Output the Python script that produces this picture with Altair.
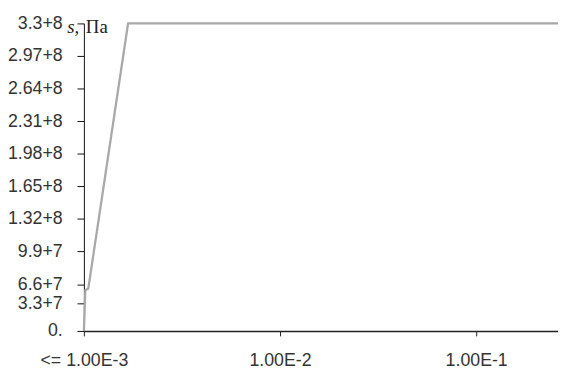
import altair as alt
import pandas as pd

# Curve (strain vs stress)
strain = [0.001, 0.001017, 0.001053, 0.00168, 0.2613]
stress = [0.0, 5.55e7, 5.84e7, 3.3e8, 3.3e8]

# Axis ticks and their labels
x_ticks = [0.001, 0.01, 0.1]
x_labels = ["<= 1.00E-3", "1.00E-2", "1.00E-1"]
y_ticks = [0.0, 3.3e7, 6.6e7, 9.9e7, 1.32e8, 1.65e8, 1.98e8, 2.31e8, 2.64e8, 2.97e8, 3.3e8]
y_labels = ["0.", "3.3+7", "6.6+7", "9.9+7", "1.32+8", "1.65+8", "1.98+8",
            "2.31+8", "2.64+8", "2.97+8", "3.3+8"]
y_unit_symbol = "s,"
y_unit = "Па"


def label_expr(vals, labs, rel):
    s = "''"
    for v, l in reversed(list(zip(vals, labs))):
        tol = max(abs(v) * rel, 1e-9) if rel else 1
        s = f"abs(datum.value - {v}) < {tol} ? '{l}' : {s}"
    return s


df = pd.DataFrame({"strain": strain, "stress": stress})

W, H = 481, 312

base = alt.Chart(df).mark_line(color="#a8a8a8", strokeWidth=2.3, clip=False).encode(
    x=alt.X(
        "strain:Q",
        scale=alt.Scale(type="log", domain=[0.001, 0.2613], nice=False),
        axis=alt.Axis(
            values=x_ticks,
            labelExpr=label_expr(x_ticks, x_labels, 1e-6),
            title=None,
            grid=False,
            domainColor="#222222",
            domainWidth=1.5,
            tickColor="#222222",
            tickSize=5,
            labelPadding=16,
            labelFont="Liberation Sans",
            labelFontSize=18,
            labelColor="#333333",
            labelFlush=False,
            labelOverlap=False,
        ),
    ),
    y=alt.Y(
        "stress:Q",
        scale=alt.Scale(domain=[0, 3.3e7, 6.6e7, 3.3e8], range=[312, 284, 264.5, 0], nice=False, zero=False),
        axis=alt.Axis(
            values=y_ticks,
            labelExpr=label_expr(y_ticks, y_labels, 0),
            title=None,
            grid=False,
            domainColor="#111111",
            tickColor="#111111",
            tickSize=7,
            labelPadding=15,
            labelFont="Liberation Sans",
            labelFontSize=18,
            labelColor="#333333",
            labelOverlap=False,
            labelFlush=False,
        ),
    ),
)

sym = alt.Chart(pd.DataFrame({"t": [y_unit_symbol]})).mark_text(
    font="Liberation Serif", fontSize=19, fontStyle="italic", align="left",
    baseline="alphabetic", color="#222222"
).encode(x=alt.value(-17), y=alt.value(10), text="t:N")

unit = alt.Chart(pd.DataFrame({"t": [y_unit]})).mark_text(
    font="Liberation Serif", fontSize=19, align="left",
    baseline="alphabetic", color="#222222"
).encode(x=alt.value(2), y=alt.value(10), text="t:N")

chart = alt.layer(base, sym, unit).properties(
    width=W,
    height=H,
    autosize=alt.AutoSizeParams(type="none"),
    padding={"left": 77, "top": 13, "right": 0, "bottom": 38},
    background="white",
).configure_view(stroke=None)

chart.save("out.html", embed_options={"renderer": "svg", "actions": False})
